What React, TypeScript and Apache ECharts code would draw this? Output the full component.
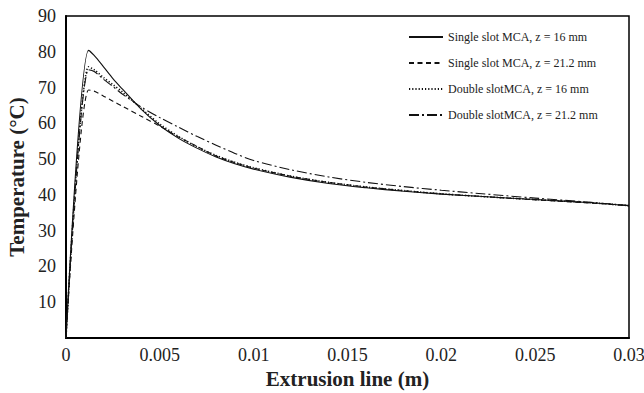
import React, { useEffect, useRef } from "react";
import * as echarts from "echarts";

const xValues = [0, 0.0012, 0.0015, 0.002, 0.0025, 0.003, 0.004, 0.005, 0.006, 0.007, 0.008, 0.009, 0.01, 0.012, 0.014, 0.016, 0.018, 0.02, 0.022, 0.025, 0.028, 0.03];
const singleZ16 = [0, 80.4, 79, 75.8, 72.5, 69.6, 64, 59.4, 55.8, 53, 50.6, 48.7, 47.2, 44.9, 43.2, 42, 41, 40.2, 39.6, 38.7, 37.8, 37];
const singleZ212 = [0, 69.3, 69, 67.6, 66.2, 64.8, 62, 59.2, 56.2, 53.5, 50.9, 49, 47.5, 45.2, 43.5, 42.2, 41.2, 40.3, 39.6, 38.6, 37.7, 37];
const doubleZ16 = [0, 75.8, 75, 72.8, 70.8, 68.8, 64.2, 59.8, 56.3, 53.4, 51, 49.1, 47.6, 45.2, 43.5, 42.2, 41.2, 40.3, 39.6, 38.7, 37.8, 37];
const doubleZ212 = [0, 75, 74.5, 72.3, 70.3, 68.2, 64.6, 61.6, 58.9, 56.3, 53.9, 51.6, 49.6, 47, 45, 43.5, 42.3, 41.3, 40.4, 39.1, 37.9, 37];

const seriesNames = [
  "Single slot MCA, z = 16 mm",
  "Single slot MCA, z = 21.2 mm",
  "Double slotMCA, z = 16 mm",
  "Double slotMCA, z = 21.2 mm",
];
const xTicks = [0, 0.005, 0.01, 0.015, 0.02, 0.025, 0.03];

const FONT = "Liberation Serif";

export default function App() {
  const ref = useRef<HTMLDivElement>(null);
  useEffect(() => {
    if (!ref.current) return;
    const chart = echarts.init(ref.current, null, { renderer: "svg" });
    const allY = [singleZ16, singleZ212, doubleZ16, doubleZ212];
    const lineTypes: any[] = ["solid", [5, 3.5], [1.2, 2], [10, 3, 2, 3]];
    chart.setOption({
      animation: false,
      backgroundColor: "#fff",
      textStyle: { fontFamily: FONT },
      grid: {
        left: 66,
        right: 15,
        top: 16,
        bottom: 55,
        containLabel: false,
        outerBoundsMode: "none",
        show: true,
        borderColor: "#000",
        borderWidth: 1.5,
      },
      legend: {
        orient: "vertical",
        left: 403,
        top: 25,
        itemWidth: 34,
        itemHeight: 14,
        itemGap: 12,
        data: seriesNames,
        itemStyle: { color: "transparent", borderWidth: 0, opacity: 0 },
        textStyle: { fontFamily: FONT, fontSize: 12, color: "#222", lineHeight: 14 },
      },
      xAxis: {
        type: "value",
        min: 0,
        max: 0.03,
        interval: 0.005,
        name: "Extrusion line (m)",
        nameLocation: "middle",
        nameGap: 29,
        nameTextStyle: { fontFamily: FONT, fontSize: 21, fontWeight: "bold", color: "#222" },
        axisLine: { show: true, lineStyle: { color: "#000", width: 2 } },
        axisTick: { show: false },
        splitLine: { show: false },
        axisLabel: {
          fontFamily: FONT,
          fontSize: 18,
          color: "#222",
          margin: 8,
          formatter: (v: number) => {
            const t = xTicks.find((k) => Math.abs(k - v) < 1e-9);
            return t === undefined ? "" : String(t);
          },
        },
      },
      yAxis: {
        type: "value",
        min: 0,
        max: 90,
        interval: 10,
        name: "Temperature (°C)",
        nameLocation: "middle",
        nameGap: 37,
        nameTextStyle: { fontFamily: FONT, fontSize: 21, fontWeight: "bold", color: "#222" },
        axisLine: { show: true, lineStyle: { color: "#000", width: 2 } },
        axisTick: { show: false },
        splitLine: { show: false },
        axisLabel: {
          fontFamily: FONT,
          fontSize: 18,
          color: "#222",
          margin: 10,
          formatter: (v: number) => (v === 0 ? "" : String(v)),
        },
      },
      series: allY.map((ys, i) => ({
        name: seriesNames[i],
        type: "line",
        symbol: "none",
        smooth: 0.3,
        data: xValues.map((x, j) => [x, ys[j]]),
        lineStyle: { color: "#111", width: i === 2 ? 1.6 : 1.1, type: lineTypes[i] },
        itemStyle: { color: "#111" },
      })),
    });
    return () => chart.dispose();
  }, []);
  return (
    <div
      ref={ref}
      style={{ position: "absolute", left: 0, top: 0, width: 644, height: 393 }}
    />
  );
}
